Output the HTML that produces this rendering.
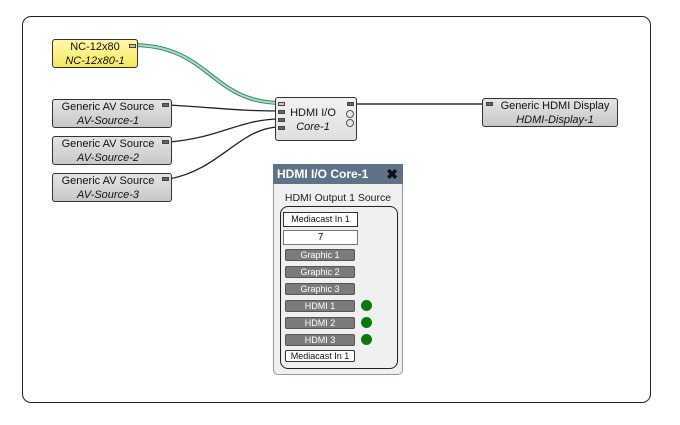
<!DOCTYPE html>
<html><head><style>
*{margin:0;padding:0;box-sizing:border-box}
body{width:680px;height:425px;background:#fff;position:relative;overflow:hidden;font-family:"Liberation Sans",sans-serif}
.a{position:absolute}
.node{position:absolute;border:1px solid #333;border-radius:3px;background:linear-gradient(#e4e4e4,#c8c8c8);text-align:center;font-size:11px;line-height:14px;color:#111}
.node i{display:block}
.port{position:absolute;width:7px;height:4px;background:#666;border:1px solid #444}
.btn{position:absolute;left:285px;width:70px;height:12px;border-radius:2px;background:#7b7b7b;border:1px solid #555;color:#fff;font-size:9px;line-height:10px;text-align:center}
.dot{position:absolute;left:361px;width:11px;height:11px;border-radius:50%;background:#0a7a0a}
.wbox{position:absolute;background:#fff;border:1px solid #333;font-size:9px;text-align:center;color:#111}
</style></head><body>
<div class="a" style="left:22px;top:16px;width:629px;height:387px;border:1px solid #222;border-radius:9px"></div>
<svg class="a" style="left:0;top:0" width="680" height="425">
<path d="M132 45 C210 45 210 102 280 103" fill="none" stroke="#3a8a6a" stroke-width="4"/>
<path d="M132 45 C210 45 210 102 280 103" fill="none" stroke="#a9dcc4" stroke-width="2"/>
<path d="M169 105 C220 108 240 111 280 111" fill="none" stroke="#222" stroke-width="1.3"/>
<path d="M169 142 C220 138 240 119 280 119" fill="none" stroke="#222" stroke-width="1.3"/>
<path d="M169 179 C220 170 240 127 280 127" fill="none" stroke="#222" stroke-width="1.3"/>
<path d="M354 104 L488 104" stroke="#666" stroke-width="2"/>
</svg>
<div class="node" style="left:52px;top:39px;width:86px;height:29px;background:linear-gradient(#fff9a8,#f5e860);padding-top:0px">NC-12x80<i>NC-12x80-1</i><span class="port" style="left:76px;top:4px;background:#c8c88a"></span></div>
<div class="node" style="left:52px;top:99px;width:120px;height:29px;padding-top:0px;padding-right:8px">Generic AV Source<i>AV-Source-1</i><span class="port" style="left:109px;top:3px"></span></div>
<div class="node" style="left:52px;top:136px;width:120px;height:29px;padding-top:0px;padding-right:8px">Generic AV Source<i>AV-Source-2</i><span class="port" style="left:109px;top:3px"></span></div>
<div class="node" style="left:52px;top:173px;width:120px;height:29px;padding-top:0px;padding-right:8px">Generic AV Source<i>AV-Source-3</i><span class="port" style="left:109px;top:3px"></span></div>
<div class="node" style="left:275px;top:97px;width:82px;height:44px;background:linear-gradient(#f2f2f2,#dedede);padding-top:8px;padding-right:6px">HDMI I/O<i>Core-1</i>
<span class="port" style="left:2px;top:4px;background:#ccc"></span><span class="port" style="left:2px;top:12px"></span><span class="port" style="left:2px;top:20px"></span><span class="port" style="left:2px;top:28px"></span>
<span class="port" style="left:71px;top:4px"></span>
<span class="a" style="left:70px;top:12px;width:8px;height:8px;border:1px solid #555;border-radius:50%"></span>
<span class="a" style="left:70px;top:21px;width:8px;height:8px;border:1px solid #555;border-radius:50%"></span></div>
<div class="node" style="left:482px;top:98px;width:136px;height:29px;padding-top:0px;padding-left:10px">Generic HDMI Display<i>HDMI-Display-1</i><span class="port" style="left:3px;top:3px"></span></div>
<div class="a" style="left:273px;top:164px;width:130px;height:211px;background:#f0f0f0;border:1px solid #8a9aaa;border-radius:0 0 5px 5px"></div>
<div class="a" style="left:273px;top:164px;width:130px;height:20px;background:#5f7388;color:#fff;font-weight:bold;font-size:12px;line-height:20px;padding-left:4px">HDMI I/O Core-1<span style="position:absolute;right:5px;color:#111;font-size:14px">✖</span></div>
<div class="a" style="left:273px;top:192px;width:130px;text-align:center;font-size:10.5px;color:#222">HDMI Output 1 Source</div>
<div class="a" style="left:280px;top:206px;width:118px;height:163px;border:1px solid #222;border-radius:8px"></div>
<div class="wbox" style="left:283px;top:212px;width:75px;height:15px;line-height:13px">Mediacast In 1</div>
<div class="wbox" style="left:283px;top:230px;width:75px;height:15px;line-height:13px;font-size:10px;border-color:#777">7</div>
<div class="btn" style="top:249px">Graphic 1</div>
<div class="btn" style="top:266px">Graphic 2</div>
<div class="btn" style="top:283px">Graphic 3</div>
<div class="btn" style="top:300px">HDMI 1</div><div class="dot" style="top:300px"></div>
<div class="btn" style="top:317px">HDMI 2</div><div class="dot" style="top:317px"></div>
<div class="btn" style="top:334px">HDMI 3</div><div class="dot" style="top:334px"></div>
<div class="wbox" style="left:285px;top:350px;width:70px;height:12px;line-height:10px;border-radius:2px">Mediacast In 1</div>
</body></html>
